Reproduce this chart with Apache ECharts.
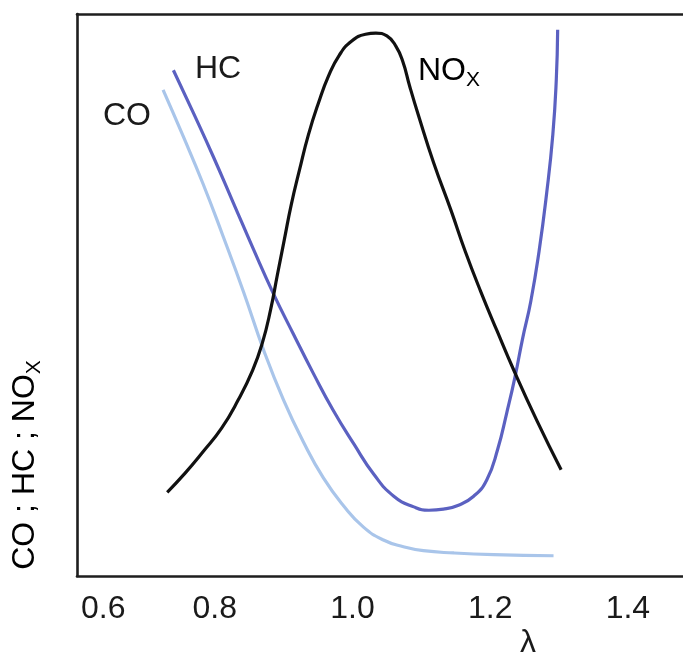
<!DOCTYPE html>
<html>
<head>
<meta charset="utf-8">
<script src="https://cdn.jsdelivr.net/npm/echarts@6/dist/echarts.min.js"></script>
<style>
html,body{margin:0;padding:0;background:#fff;}
#c{width:683px;height:655px;}
</style>
</head>
<body>
<div id="c"></div>
<script>
// lambda (air ratio) values and relative emission levels (0-100)
var noxLambda = [0.731,0.757,0.783,0.810,0.834,0.855,0.869,0.881,0.891,0.901,0.911,0.923,0.936,0.951,0.965,0.981,0.999,1.019,1.034,1.050,1.063,1.073,1.083,1.096,1.118,1.143,1.164,1.186,1.210,1.234,1.268,1.303];
var noxLevel  = [14.9,18.3,22.1,26.3,31.3,36.6,41.4,47.3,53.6,59.8,66.0,72.2,78.5,84.3,88.9,92.7,95.2,96.4,96.6,96.1,94.3,91.6,87.2,81.9,73.5,65.1,57.7,50.7,43.6,36.7,27.6,18.9];

var hcLambda = [0.740,0.769,0.798,0.827,0.856,0.885,0.914,0.943,0.972,1.002,1.031,1.060,1.089,1.111,1.132,1.154,1.176,1.195,1.211,1.224,1.236,1.247,1.259,1.271,1.282,1.291,1.296,1.298];
var hcLevel  = [90.0,82.4,74.6,66.4,58.2,50.3,43.1,36.1,29.5,23.5,18.1,14.2,12.3,11.7,11.9,12.6,14.2,17.1,22.6,29.0,35.4,42.2,48.9,57.8,68.1,78.6,88.3,97.2];

var coLambda = [0.725,0.754,0.783,0.812,0.842,0.871,0.900,0.929,0.958,0.987,1.016,1.045,1.074,1.103,1.147,1.205,1.292];
var coLevel  = [86.5,78.3,69.8,60.5,50.5,40.2,31.3,23.8,17.4,12.5,8.7,6.4,5.2,4.5,4.1,3.8,3.6];

var xTicks = [0.6,0.8,1.0,1.2,1.4];

function pairs(xs, ys){ return xs.map(function(x,i){ return [x, ys[i]]; }); }

var font = 'Liberation Sans, Arial, Helvetica, sans-serif';
var textColor = '#1a1a1a';
var frame = {show: true, onZero: false, lineStyle: {color: '#1e1e1e', width: 2.6}};

var subRich = {
  a: {fontSize: 32, fontFamily: font, color: textColor, verticalAlign: 'top', lineHeight: 36},
  b: {fontSize: 21, fontFamily: font, color: textColor, verticalAlign: 'bottom', lineHeight: 36}
};

var chart = echarts.init(document.getElementById('c'), null, {renderer:'canvas'});
chart.setOption({
  backgroundColor: '#fff',
  animation: false,
  grid: {left: 77, top: 14, right: 0, bottom: 79, containLabel: false},
  xAxis: [{
    type: 'value', min: 0.6, max: 1.48, interval: 0.2, position: 'bottom',
    axisLine: frame, axisTick: {show: false}, splitLine: {show: false},
    axisLabel: {
      fontSize: 32, color: textColor, fontFamily: font, margin: 17,
      alignMinLabel: 'left', showMaxLabel: false,
      rich: {first: {fontSize: 32, fontFamily: font, color: textColor, padding: [0, 0, 0, 4]}},
      formatter: function(v){
        for (var i=0;i<xTicks.length;i++){
          if (Math.abs(v-xTicks[i])<1e-6) return i === 0 ? '{first|' + xTicks[i].toFixed(1) + '}' : xTicks[i].toFixed(1);
        }
        return '';
      }
    }
  }, {
    type: 'value', min: 0.6, max: 1.48, position: 'top',
    axisLine: frame, axisTick: {show: false}, splitLine: {show: false}, axisLabel: {show: false}
  }],
  yAxis: {
    type: 'value', min: 0, max: 100, position: 'left',
    axisLine: frame, axisTick: {show: false}, splitLine: {show: false}, axisLabel: {show: false}
  },
  series: [
    {name: 'CO', type: 'line', data: pairs(coLambda, coLevel), smooth: 0.5, showSymbol: false,
     lineStyle: {color: '#a9c5ea', width: 3.2}, z: 2},
    {name: 'HC', type: 'line', data: pairs(hcLambda, hcLevel), smooth: 0.5, showSymbol: false,
     lineStyle: {color: '#5b61c1', width: 3.2}, z: 3},
    {name: 'NOx', type: 'line', data: pairs(noxLambda, noxLevel), smooth: 0.5, showSymbol: false,
     lineStyle: {color: '#111', width: 3.2}, z: 4}
  ],
  graphic: [
    {type: 'text', left: 103, top: 100, style: {text: 'CO', font: '32px ' + font, fill: textColor}},
    {type: 'text', left: 195, top: 53, style: {text: 'HC', font: '32px ' + font, fill: textColor}},
    {type: 'text', left: 418, top: 55, style: {text: '{a|NO}{b|X}', rich: subRich}},
    {type: 'text', left: 520, top: 627, style: {text: 'λ', font: '32px ' + font, fill: textColor}},
    {type: 'text', x: 27, y: 465, rotation: Math.PI/2, style: {
      text: '{a|CO ; HC ; NO}{b|X}', align: 'center', verticalAlign: 'middle', rich: subRich
    }}
  ]
});
</script>
</body>
</html>
